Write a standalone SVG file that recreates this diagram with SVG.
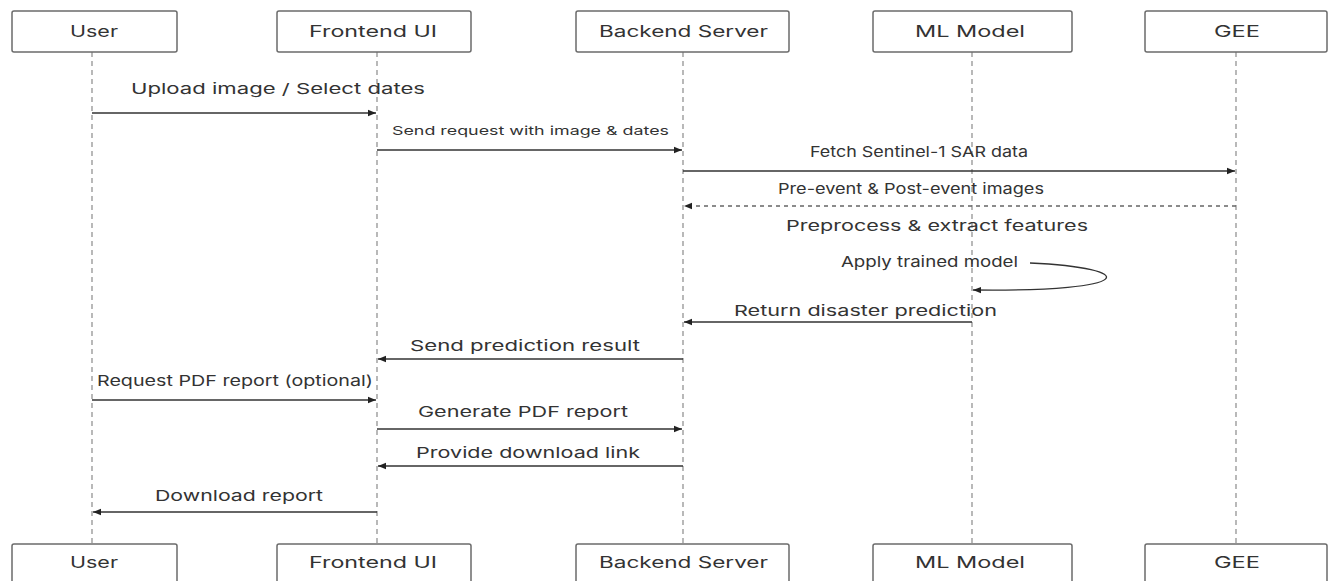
<svg xmlns="http://www.w3.org/2000/svg" width="1329" height="581" viewBox="0 0 1329 581">
  <style>
    .box { fill: #ffffff; stroke: #6b6b6b; stroke-width: 1.5; }
    .name { font-family: Inter, "Noto Sans", "Liberation Sans", sans-serif; font-size: 16px; fill: #333333; }
    .life { stroke: #8a8a8a; stroke-width: 1.2; stroke-dasharray: 5 4; fill: none; }
    .msg { stroke: #333333; stroke-width: 1.3; fill: none; marker-end: url(#head); }
    .ret { stroke: #666666; stroke-width: 1.3; stroke-dasharray: 4 4; fill: none; marker-end: url(#head); }
    .lbl { font-family: Inter, "Noto Sans", "Liberation Sans", sans-serif; font-size: 15px; fill: #333333; }
    .small { font-size: 12px; }
  </style>
  <defs>
    <marker id="head" viewBox="0 0 10 10" refX="10" refY="5" markerWidth="8" markerHeight="8" markerUnits="userSpaceOnUse" orient="auto">
      <path d="M0,1 L10,5 L0,9 Z" fill="#222222"/>
    </marker>
  </defs>
  <rect width="1329" height="581" fill="#ffffff"/>

  <!-- lifelines -->
  <g id="lifelines">
    <line class="life" x1="92" y1="52" x2="92" y2="544"/>
    <line class="life" x1="377" y1="52" x2="377" y2="544"/>
    <line class="life" x1="683" y1="52" x2="683" y2="544"/>
    <line class="life" x1="972" y1="52" x2="972" y2="544"/>
    <line class="life" x1="1236" y1="52" x2="1236" y2="544"/>
  </g>

  <!-- participants, top row -->
  <g id="user-top"><rect class="box" x="12" y="11" width="165" height="41" rx="2"/><text class="name" x="70" y="37" textLength="48" lengthAdjust="spacingAndGlyphs">User</text></g>
  <g id="frontend-top"><rect class="box" x="277" y="11" width="194" height="41" rx="2"/><text class="name" x="309" y="37" textLength="128" lengthAdjust="spacingAndGlyphs">Frontend UI</text></g>
  <g id="backend-top"><rect class="box" x="576" y="11" width="213" height="41" rx="2"/><text class="name" x="599" y="37" textLength="169" lengthAdjust="spacingAndGlyphs">Backend Server</text></g>
  <g id="ml-top"><rect class="box" x="873" y="11" width="199" height="41" rx="2"/><text class="name" x="915" y="37" textLength="110" lengthAdjust="spacingAndGlyphs">ML Model</text></g>
  <g id="gee-top"><rect class="box" x="1145" y="11" width="182" height="41" rx="2"/><text class="name" x="1214" y="37" textLength="46" lengthAdjust="spacingAndGlyphs">GEE</text></g>

  <!-- participants, bottom row -->
  <g id="user-bottom"><rect class="box" x="12" y="544" width="165" height="40" rx="2"/><text class="name" x="70" y="568" textLength="48" lengthAdjust="spacingAndGlyphs">User</text></g>
  <g id="frontend-bottom"><rect class="box" x="277" y="544" width="194" height="40" rx="2"/><text class="name" x="309" y="568" textLength="128" lengthAdjust="spacingAndGlyphs">Frontend UI</text></g>
  <g id="backend-bottom"><rect class="box" x="576" y="544" width="213" height="40" rx="2"/><text class="name" x="599" y="568" textLength="169" lengthAdjust="spacingAndGlyphs">Backend Server</text></g>
  <g id="ml-bottom"><rect class="box" x="873" y="544" width="199" height="40" rx="2"/><text class="name" x="915" y="568" textLength="110" lengthAdjust="spacingAndGlyphs">ML Model</text></g>
  <g id="gee-bottom"><rect class="box" x="1145" y="544" width="182" height="40" rx="2"/><text class="name" x="1214" y="568" textLength="46" lengthAdjust="spacingAndGlyphs">GEE</text></g>

  <!-- messages -->
  <g id="connectors">
    <line class="msg" x1="92" y1="113" x2="376" y2="113"/>
    <line class="msg" x1="377" y1="150" x2="682" y2="150"/>
    <line class="msg" x1="683" y1="171" x2="1235" y2="171"/>
    <line class="ret" x1="1236" y1="206" x2="684" y2="206"/>
    <path class="msg" d="M1030,263 C1140,268 1140,292 973,290"/>
    <line class="msg" x1="972" y1="322" x2="684" y2="322"/>
    <line class="msg" x1="683" y1="359" x2="378" y2="359"/>
    <line class="msg" x1="92" y1="400" x2="376" y2="400"/>
    <line class="msg" x1="377" y1="429" x2="682" y2="429"/>
    <line class="msg" x1="683" y1="466" x2="378" y2="466"/>
    <line class="msg" x1="377" y1="512" x2="93" y2="512"/>
  </g>

  <g id="labels">
    <text class="lbl" x="131" y="94" textLength="294" lengthAdjust="spacingAndGlyphs">Upload image / Select dates</text>
    <text class="lbl small" x="392" y="135" textLength="277" lengthAdjust="spacingAndGlyphs">Send request with image &amp; dates</text>
    <text class="lbl" x="810" y="157" textLength="218" lengthAdjust="spacingAndGlyphs">Fetch Sentinel-1 SAR data</text>
    <text class="lbl" x="778" y="194" textLength="266" lengthAdjust="spacingAndGlyphs">Pre-event &amp; Post-event images</text>
    <text class="lbl" x="786" y="231" textLength="302" lengthAdjust="spacingAndGlyphs">Preprocess &amp; extract features</text>
    <text class="lbl" x="841" y="267" textLength="177" lengthAdjust="spacingAndGlyphs">Apply trained model</text>
    <text class="lbl" x="734" y="316" textLength="263" lengthAdjust="spacingAndGlyphs">Return disaster prediction</text>
    <text class="lbl" x="410" y="351" textLength="230" lengthAdjust="spacingAndGlyphs">Send prediction result</text>
    <text class="lbl" x="97" y="386" textLength="276" lengthAdjust="spacingAndGlyphs">Request PDF report (optional)</text>
    <text class="lbl" x="418" y="417" textLength="210" lengthAdjust="spacingAndGlyphs">Generate PDF report</text>
    <text class="lbl" x="416" y="458" textLength="224" lengthAdjust="spacingAndGlyphs">Provide download link</text>
    <text class="lbl" x="155" y="501" textLength="168" lengthAdjust="spacingAndGlyphs">Download report</text>
  </g>
</svg>
